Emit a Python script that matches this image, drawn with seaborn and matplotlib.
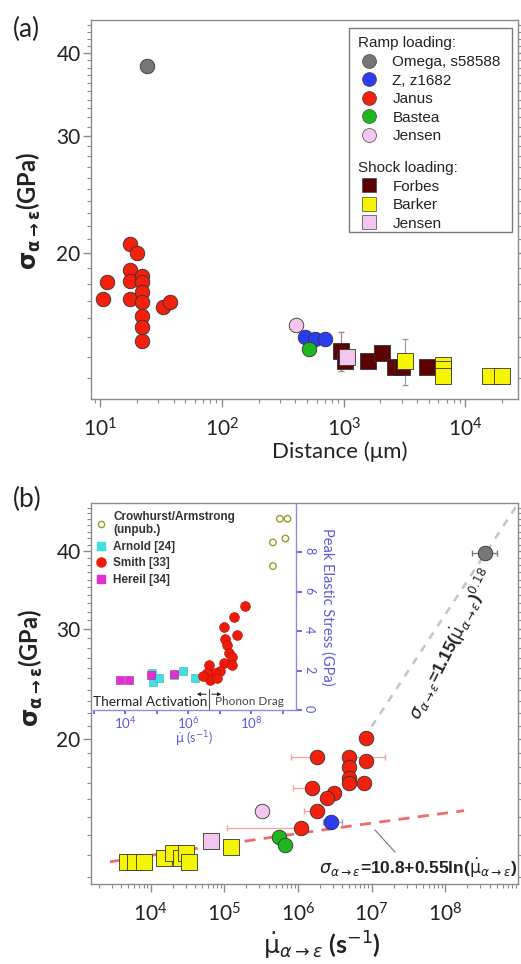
import numpy as np
import matplotlib
matplotlib.use("Agg")
import matplotlib.pyplot as plt
import matplotlib.ticker as mticker
from matplotlib.lines import Line2D
from matplotlib.patches import Rectangle
import seaborn as sns

sns.set_theme(style="ticks")
plt.rcParams["font.family"] = ["Lato", "DejaVu Sans"]
plt.rcParams["mathtext.fontset"] = "dejavusans"

# ---------------- panel (a): transition stress vs. propagation distance ----------------
omega_dist = [24.0]
omega_sig = [38.2]
z_dist = [480, 580, 700]
z_sig = [15.0, 14.9, 14.9]
janus_dist = [10.6, 11.4, 17.4, 20.2, 17.4, 17.4, 17.4, 22.1, 22.1, 22.1, 22.1, 22.1, 22.1, 22.1, 33.0, 37.6]
janus_sig = [17.1, 18.1, 20.7, 20.0, 18.9, 18.2, 17.1, 18.5, 18.1, 17.5, 16.9, 16.1, 15.5, 14.8, 16.6, 16.9]
bastea_dist = [520]
bastea_sig = [14.4]
jensen_ramp_dist = [405]
jensen_ramp_sig = [15.6]
forbes_dist = [955, 1030, 1590, 2070, 2650, 3000, 4860]
forbes_sig = [14.3, 13.8, 13.8, 14.2, 13.5, 13.5, 13.5]
forbes_err = [0.95, 0.3, 0.3, 0.3, 0.3, 0.3, 0.2]
barker_dist = [3170, 6600, 6600, 6600, 16000, 19900]
barker_sig = [13.8, 13.6, 13.4, 13.1, 13.1, 13.1]
barker_err = [1.1, 0.0, 0.0, 0.0, 0.0, 0.0]
jensen_shock_dist = [1070]
jensen_shock_sig = [14.0]

# ---------------- panel (b): transition stress vs. transformation rate ----------------
omega_rate = [3.5e8]
omega_sig_b = [39.8]
omega_rate_lo = [1.2e8]
omega_rate_hi = [1.5e8]
janus_rate = [8.5e6, 1.8e6, 5.0e6, 8.3e6, 5.0e6, 5.0e6, 5.0e6, 8.0e6, 1.55e6, 3.1e6, 2.5e6, 1.8e6, 1.1e6]
janus_sig_b = [20.1, 18.7, 18.7, 18.4, 18.0, 17.3, 17.0, 17.0, 16.7, 16.4, 16.1, 15.3, 14.4]
janus_rate_lo = [0, 1.0e6, 0, 0, 0, 0, 0, 0, 7e5, 0, 0, 6e5, 9.9e5]
janus_rate_hi = [0, 0, 1.0e7, 0, 0, 0, 0, 0, 0, 0, 0, 0, 0]
z_rate = [2.8e6]
z_sig_b = [14.7]
bastea_rate = [5.6e5, 6.6e5]
bastea_sig_b = [13.9, 13.5]
jensen_ramp_rate = [3.2e5]
jensen_ramp_sig_b = [15.3]
jensen_shock_rate = [6.6e4]
jensen_shock_sig_b = [13.7]
barker_rate = [4.8e3, 6.2e3, 8.0e3, 1.5e4, 2.0e4, 2.6e4, 3.0e4, 3.3e4, 1.25e5]
barker_sig_b = [12.7, 12.7, 12.7, 12.9, 13.1, 12.9, 13.1, 12.7, 13.4]

# fitted relations
log_fit_a, log_fit_b = 10.8, 0.55
pow_fit_a, pow_fit_b = 1.15, 0.18
log_fit_range = (2.8e3, 1.8e8)
pow_fit_range = (1.0e7, 1.2e9)

# ---------------- inset: peak elastic stress vs. strain rate ----------------
crow_rate = [8.0e8, 1.4e9, 4.8e8, 1.2e9, 4.8e8]
crow_stress = [9.7, 9.7, 8.5, 8.7, 7.3]
arnold_rate = [7.0e4, 7.5e4, 1.2e5, 3.5e5, 6.5e5, 1.6e6]
arnold_stress = [1.9, 1.4, 1.6, 1.8, 2.0, 1.6]
smith_rate = [6.4e7, 2.8e7, 1.3e7, 3.5e7, 1.45e7, 1.7e7, 1.96e7, 2.4e7, 1.3e7, 2.4e7, 4.4e6, 1.0e7,
              6.9e6, 3.8e6, 5.0e6, 8.0e6, 3.0e6]
smith_stress = [5.3, 4.7, 4.2, 3.8, 3.6, 3.3, 2.9, 2.7, 2.4, 2.3, 2.3, 2.0, 1.9, 1.9, 1.5, 1.6, 1.7]
hereil_rate = [6.9e3, 1.25e4, 6.4e4, 3.5e5]
hereil_stress = [1.5, 1.5, 1.8, 1.85]
regime_boundary = 4.5e6

# colours
c_omega = "#777777"
c_z = "#2b3cf2"
c_janus = "#f2200c"
c_bastea = "#1cb81c"
c_jensen = "#f3c6f0"
c_forbes = "#5c0202"
c_barker = "#f6f500"
c_inset = "#5a5ad8"
c_text = "#222222"

fig = plt.figure(figsize=(5.21, 9.64), dpi=100)
ax_a = fig.add_axes([0.1747, 0.5861, 0.8195, 0.3932])
ax_b = fig.add_axes([0.1747, 0.0830, 0.8195, 0.3952])
ax_in = fig.add_axes([0.1785, 0.2635, 0.3896, 0.2147])

circ = dict(marker="o", s=110, edgecolor="#333333", linewidth=0.6, legend=False)
sq = dict(marker="s", s=120, edgecolor="#333333", linewidth=0.6, legend=False)


def style_main(ax):
    ax.set_yscale("log")
    ax.set_xscale("log")
    for side in ["left", "bottom", "right", "top"]:
        ax.spines[side].set_visible(True)
        ax.spines[side].set_color("#8a8a8a")
        ax.spines[side].set_linewidth(1.0)
    ax.yaxis.set_major_locator(mticker.FixedLocator([20, 30, 40]))
    ax.yaxis.set_major_formatter(mticker.FixedFormatter(["20", "30", "40"]))
    ax.yaxis.set_minor_locator(mticker.FixedLocator(np.arange(11, 48, 1)))
    ax.yaxis.set_minor_formatter(mticker.NullFormatter())
    ax.xaxis.set_major_locator(mticker.LogLocator(base=10, numticks=20))
    ax.xaxis.set_minor_locator(mticker.LogLocator(base=10, subs=np.arange(2, 10), numticks=20))
    ax.xaxis.set_minor_formatter(mticker.NullFormatter())
    ax.tick_params(axis="both", which="major", labelsize=15, length=5.5, width=1,
                   color="#8a8a8a", pad=2, labelcolor=c_text)
    ax.tick_params(axis="both", which="minor", length=3, width=0.8, color="#8a8a8a")
    ax.tick_params(axis="y", which="both", right=True, labelright=False)
    ax.tick_params(axis="x", which="major", pad=8)


# ---------------- draw panel (a) ----------------
style_main(ax_a)
ax_a.errorbar(forbes_dist, forbes_sig, yerr=forbes_err, fmt="none", ecolor="#b08080",
              elinewidth=0.8, capsize=2, zorder=1)
ax_a.errorbar(barker_dist, barker_sig, yerr=barker_err, fmt="none", ecolor="#999999",
              elinewidth=0.8, capsize=2, zorder=1)
ax_a.errorbar(omega_dist, omega_sig, xerr=[[2.0], [2.0]], fmt="none", ecolor="#aaaaaa",
              elinewidth=0.8, zorder=1)
sns.scatterplot(x=janus_dist, y=janus_sig, color=c_janus, ax=ax_a, zorder=3, **circ)
sns.scatterplot(x=omega_dist, y=omega_sig, color=c_omega, ax=ax_a, zorder=3, **circ)
sns.scatterplot(x=jensen_ramp_dist, y=jensen_ramp_sig, color=c_jensen, ax=ax_a, zorder=3, **circ)
sns.scatterplot(x=z_dist, y=z_sig, color=c_z, ax=ax_a, zorder=3, **circ)
sns.scatterplot(x=bastea_dist, y=bastea_sig, color=c_bastea, ax=ax_a, zorder=3, **circ)
sns.scatterplot(x=forbes_dist, y=forbes_sig, color=c_forbes, ax=ax_a, zorder=3, **sq)
sns.scatterplot(x=jensen_shock_dist, y=jensen_shock_sig, color=c_jensen, ax=ax_a, zorder=4, **sq)
sns.scatterplot(x=barker_dist, y=barker_sig, color=c_barker, ax=ax_a, zorder=4, **sq)
ax_a.set_xlim(8.4, 27000)
ax_a.set_ylim(12.1, 44.8)
ax_a.set_xlabel("Distance (\u03bcm)", fontsize=16, color=c_text)
ax_a.xaxis.set_label_coords(0.583, -0.112)
ax_a.set_ylabel(r"$\mathbf{\sigma_{\alpha\rightarrow\varepsilon}}$(GPa)", fontsize=17,
                fontweight="bold", color=c_text)
ax_a.yaxis.set_label_coords(-0.112, 0.496)

# legend of panel (a), two stacked groups inside one frame
ramp_handles = [
    Line2D([], [], ls="none", marker="o", ms=10, mfc=c, mec="#444444", mew=0.5, label=l)
    for c, l in [(c_omega, "Omega, s58588"), (c_z, "Z, z1682"), (c_janus, "Janus"),
                 (c_bastea, "Bastea"), (c_jensen, "Jensen")]
]
shock_handles = [
    Line2D([], [], ls="none", marker="s", ms=10, mfc=c, mec="#444444", mew=0.5, label=l)
    for c, l in [(c_forbes, "Forbes"), (c_barker, "Barker"), (c_jensen, "Jensen")]
]
leg_font = dict(family="Liberation Sans", size=11, weight="normal")
leg_kw = dict(frameon=False, prop=leg_font, handlelength=1.5, handletextpad=0.75,
              labelspacing=0.3, borderpad=0.2, alignment="left")
leg1 = ax_a.legend(handles=ramp_handles, title="Ramp loading:", title_fontproperties=leg_font,
                   loc="upper left", bbox_to_anchor=(0.6, 0.985), **leg_kw)
ax_a.add_artist(leg1)
leg2 = ax_a.legend(handles=shock_handles, title="Shock loading:", title_fontproperties=leg_font,
                   loc="upper left", bbox_to_anchor=(0.6, 0.656), **leg_kw)
for lg in (leg1, leg2):
    lg.get_title().set_color(c_text)
    for t in lg.get_texts():
        t.set_color(c_text)
ax_a.add_patch(Rectangle((0.604, 0.441), 0.382, 0.538, transform=ax_a.transAxes,
                         fill=False, edgecolor="#7a7a7a", linewidth=1.0, zorder=5))

# ---------------- draw panel (b) ----------------
style_main(ax_b)
fx = np.logspace(np.log10(log_fit_range[0]), np.log10(log_fit_range[1]), 100)
ax_b.plot(fx, log_fit_a + log_fit_b * np.log10(fx), ls=(0, (4, 3)), color="#f06a6a", lw=2, zorder=1)
px = np.logspace(np.log10(pow_fit_range[0]), np.log10(pow_fit_range[1]), 100)
ax_b.plot(px, pow_fit_a * px ** pow_fit_b, ls=(0, (3, 3)), color="#c4c4c4", lw=1.8, zorder=1)

ax_b.errorbar(janus_rate, janus_sig_b, xerr=[janus_rate_lo, janus_rate_hi], fmt="none",
              ecolor="#f3a0a0", elinewidth=0.9, capsize=2, zorder=1)
ax_b.errorbar(omega_rate, omega_sig_b, xerr=[omega_rate_lo, omega_rate_hi], fmt="none",
              ecolor="#777777", elinewidth=0.9, capsize=2, zorder=1)
ax_b.errorbar(z_rate, z_sig_b, xerr=[[6e5], [1.2e6]], fmt="none", ecolor="#9aa0f0",
              elinewidth=0.9, capsize=2, zorder=1)
sns.scatterplot(x=barker_rate, y=barker_sig_b, color=c_barker, ax=ax_b, zorder=3, **sq)
sns.scatterplot(x=jensen_shock_rate, y=jensen_shock_sig_b, color=c_jensen, ax=ax_b, zorder=3, **sq)
sns.scatterplot(x=jensen_ramp_rate, y=jensen_ramp_sig_b, color=c_jensen, ax=ax_b, zorder=3, **circ)
sns.scatterplot(x=bastea_rate, y=bastea_sig_b, color=c_bastea, ax=ax_b, zorder=3, **circ)
sns.scatterplot(x=janus_rate, y=janus_sig_b, color=c_janus, ax=ax_b, zorder=3, **circ)
sns.scatterplot(x=z_rate, y=z_sig_b, color=c_z, ax=ax_b, zorder=3, **circ)
sns.scatterplot(x=omega_rate, y=omega_sig_b, color=c_omega, ax=ax_b, zorder=3, **circ)
ax_b.set_xlim(1550, 9.7e8)
ax_b.set_ylim(11.7, 47.8)
ax_b.set_xlabel(r"$\dot{\mathrm{\mu}}_{\alpha\rightarrow\varepsilon}$ (s$^{-1}$)", fontsize=18,
                fontweight="bold", color=c_text)
ax_b.xaxis.set_label_coords(0.541, -0.12)
ax_b.set_ylabel(r"$\mathbf{\sigma_{\alpha\rightarrow\varepsilon}}$(GPa)", fontsize=17,
                fontweight="bold", color=c_text)
ax_b.yaxis.set_label_coords(-0.108, 0.567)

fit_font = dict(family="Liberation Sans", size=12.5, weight="bold")
ax_b.text(0.845, 0.628,
          r"$\sigma_{\alpha\rightarrow\varepsilon}$=1.15($\dot{\mathrm{\mu}}_{\alpha\rightarrow\varepsilon}$)$^{0.18}$",
          transform=ax_b.transAxes, rotation=63, fontproperties=fit_font,
          color=c_text, ha="center", va="center")
ax_b.annotate(r"$\sigma_{\alpha\rightarrow\varepsilon}$=10.8+0.55ln($\dot{\mathrm{\mu}}_{\alpha\rightarrow\varepsilon}$)",
              xy=(1.1e7, 14.3), xytext=(0.998, 0.043), textcoords="axes fraction",
              fontproperties=dict(family="Liberation Sans", size=12.5, weight="bold"),
              color=c_text, ha="right", va="center",
              arrowprops=dict(arrowstyle="-", color="#777777", lw=0.8,
                              shrinkA=0, shrinkB=0, relpos=(0.4, 1.0)))

# ---------------- draw inset ----------------
ax_in.patch.set_alpha(0)
ax_in.set_xscale("log")
for side in ["left", "top"]:
    ax_in.spines[side].set_visible(False)
for side in ["right", "bottom"]:
    ax_in.spines[side].set_visible(True)
    ax_in.spines[side].set_color("#8c8ce0")
    ax_in.spines[side].set_linewidth(1.0)
sns.scatterplot(x=crow_rate, y=crow_stress, ax=ax_in, marker="o", s=22, facecolor="none",
                edgecolor="#9a9a30", linewidth=1.0, legend=False, zorder=3)
sns.scatterplot(x=arnold_rate, y=arnold_stress, ax=ax_in, marker="s", s=34, color="#40e0e0",
                edgecolor="#30b0c0", linewidth=0.4, legend=False, zorder=3)
sns.scatterplot(x=hereil_rate, y=hereil_stress, ax=ax_in, marker="s", s=34, color="#e030d0",
                edgecolor="#b020a0", linewidth=0.4, legend=False, zorder=3)
sns.scatterplot(x=smith_rate, y=smith_stress, ax=ax_in, marker="o", s=50, color="#ee1a0a",
                edgecolor="#b01000", linewidth=0.4, legend=False, zorder=3)
ax_in.set_xlim(930, 2.6e9)
ax_in.set_ylim(0, 10.5)
ax_in.yaxis.tick_right()
ax_in.yaxis.set_label_position("right")
ax_in.set_yticks([0, 2, 4, 6, 8])
ax_in.tick_params(axis="y", which="major", labelsize=9, colors=c_inset, length=4,
                  labelrotation=-90, pad=1, left=False)
ax_in.xaxis.set_major_locator(mticker.LogLocator(base=10, numticks=20))
ax_in.xaxis.set_major_formatter(mticker.FuncFormatter(
    lambda v, p: r"$\mathdefault{10^{%d}}$" % round(np.log10(v)) if round(np.log10(v)) % 2 == 0 else ""))
ax_in.xaxis.set_minor_locator(mticker.NullLocator())
ax_in.tick_params(axis="x", which="major", labelsize=9.5, colors=c_inset, length=3, pad=1)
ax_in.set_ylabel("Peak Elastic Stress (GPa)", fontsize=10.5, color=c_inset, rotation=-90,
                 labelpad=14)
ax_in.set_xlabel(r"$\dot{\mathrm{\mu}}$ (s$^{-1}$)", fontsize=9, color=c_inset, labelpad=0)
ax_in.xaxis.set_label_coords(0.5, -0.095)

ax_in.axvline(regime_boundary, ymin=0, ymax=0.1, color="#555555", lw=0.8)
ax_in.annotate("", xy=(regime_boundary / 3.0, 0.8), xytext=(regime_boundary, 0.8),
               arrowprops=dict(arrowstyle="-|>", color=c_text, lw=0.7, mutation_scale=5))
ax_in.annotate("", xy=(regime_boundary * 3.0, 0.8), xytext=(regime_boundary, 0.8),
               arrowprops=dict(arrowstyle="-|>", color=c_text, lw=0.7, mutation_scale=5))
ax_in.text(0.0, 0.01, "Thermal Activation", transform=ax_in.transAxes, fontsize=9.8,
           color=c_text, ha="left", va="bottom")
ax_in.text(0.6, 0.015, "Phonon Drag", transform=ax_in.transAxes, fontsize=8.5,
           color="#444444", ha="left", va="bottom")

in_handles = [
    Line2D([], [], ls="none", marker="o", ms=4.5, mfc="none", mec="#9a9a30", mew=1.0,
           label="Crowhurst/Armstrong\n(unpub.)"),
    Line2D([], [], ls="none", marker="s", ms=5.5, mfc="#40e0e0", mec="#40e0e0", label="Arnold [24]"),
    Line2D([], [], ls="none", marker="o", ms=6.5, mfc="#ee1a0a", mec="#ee1a0a", label="Smith [33]"),
    Line2D([], [], ls="none", marker="s", ms=5.5, mfc="#e030d0", mec="#e030d0", label="Hereil [34]"),
]
in_leg = ax_in.legend(handles=in_handles, loc="upper left", bbox_to_anchor=(0.0, 0.975),
                      frameon=False, prop=dict(family="Liberation Sans", size=8.5, weight="bold"),
                      handlelength=0.9, handletextpad=0.6, labelspacing=0.38, borderpad=0.2,
                      borderaxespad=0.0)
for t in in_leg.get_texts():
    t.set_color("#333333")

fig.text(0.025, 0.982, "(a)", fontsize=19, color=c_text, va="top", ha="left")
fig.text(0.025, 0.495, "(b)", fontsize=19, color=c_text, va="top", ha="left")

fig.savefig("out.png", dpi=100)
